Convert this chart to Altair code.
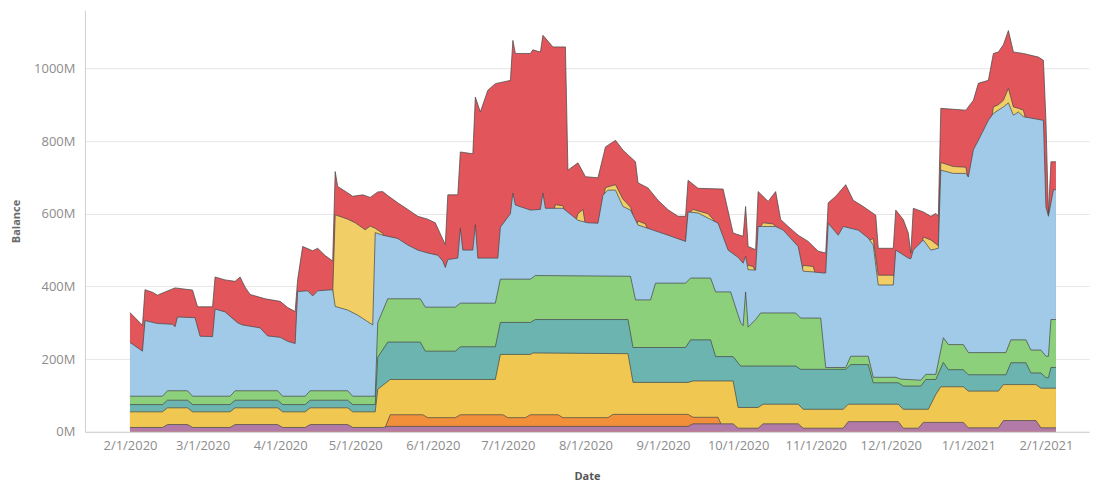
import altair as alt
import pandas as pd

# Cumulative balance (millions) at the upper edge of each band.
# Bands from bottom to top: purple, orange, gold, teal, green, light blue, light yellow, red.
red_top = [
    ("2020-02-01", 328), ("2020-02-06", 293), ("2020-02-07", 391), ("2020-02-10", 384), ("2020-02-12", 376),
    ("2020-02-14", 382), ("2020-02-19", 396), ("2020-02-26", 390), ("2020-02-28", 344), ("2020-03-05", 344),
    ("2020-03-06", 426), ("2020-03-10", 418), ("2020-03-14", 414), ("2020-03-16", 426), ("2020-03-18", 398),
    ("2020-03-20", 378), ("2020-03-26", 366), ("2020-04-01", 359), ("2020-04-04", 342), ("2020-04-07", 331),
    ("2020-04-08", 419), ("2020-04-10", 510), ("2020-04-14", 498), ("2020-04-16", 505), ("2020-04-19", 485),
    ("2020-04-22", 470), ("2020-04-23", 716), ("2020-04-24", 675), ("2020-04-27", 662), ("2020-04-30", 648),
    ("2020-05-04", 652), ("2020-05-07", 645), ("2020-05-10", 660), ("2020-05-12", 661), ("2020-05-14", 650),
    ("2020-05-18", 630), ("2020-05-22", 612), ("2020-05-26", 593), ("2020-05-30", 585), ("2020-06-02", 575),
    ("2020-06-04", 545), ("2020-06-06", 515), ("2020-06-07", 652), ("2020-06-11", 652), ("2020-06-12", 770),
    ("2020-06-17", 765), ("2020-06-18", 921), ("2020-06-20", 880), ("2020-06-23", 940), ("2020-06-26", 958),
    ("2020-07-02", 967), ("2020-07-03", 1077), ("2020-07-04", 1041), ("2020-07-10", 1041), ("2020-07-11", 1051),
    ("2020-07-14", 1045), ("2020-07-15", 1091), ("2020-07-17", 1075), ("2020-07-19", 1059), ("2020-07-24", 1059),
    ("2020-07-25", 720), ("2020-07-29", 740), ("2020-08-01", 702), ("2020-08-06", 699), ("2020-08-09", 784),
    ("2020-08-13", 802), ("2020-08-16", 775), ("2020-08-21", 743), ("2020-08-22", 685), ("2020-08-26", 671),
    ("2020-08-30", 637), ("2020-09-03", 611), ("2020-09-07", 593), ("2020-09-10", 593), ("2020-09-11", 692),
    ("2020-09-15", 670), ("2020-09-25", 668), ("2020-09-29", 547), ("2020-10-03", 538), ("2020-10-04", 620),
    ("2020-10-05", 510), ("2020-10-08", 501), ("2020-10-09", 661), ("2020-10-13", 634), ("2020-10-16", 661),
    ("2020-10-18", 584), ("2020-10-21", 565), ("2020-10-25", 541), ("2020-10-29", 524), ("2020-11-02", 497),
    ("2020-11-05", 492), ("2020-11-06", 630), ("2020-11-09", 648), ("2020-11-13", 680), ("2020-11-16", 637),
    ("2020-11-20", 620), ("2020-11-25", 596), ("2020-11-26", 505), ("2020-12-02", 505), ("2020-12-03", 610),
    ("2020-12-06", 584), ("2020-12-08", 547), ("2020-12-09", 492), ("2020-12-10", 615), ("2020-12-14", 605),
    ("2020-12-17", 593), ("2020-12-19", 601), ("2020-12-20", 593), ("2020-12-21", 890), ("2020-12-31", 885),
    ("2021-01-03", 912), ("2021-01-05", 959), ("2021-01-09", 967), ("2021-01-11", 1041), ("2021-01-13", 1045),
    ("2021-01-15", 1065), ("2021-01-17", 1104), ("2021-01-19", 1045), ("2021-01-23", 1041), ("2021-01-29", 1031),
    ("2021-01-31", 1022), ("2021-02-01", 857), ("2021-02-02", 600), ("2021-02-03", 743), ("2021-02-05", 743),
]

light_yellow_top = [
    [("2020-04-22", 380), ("2020-04-23", 597), ("2020-04-26", 590), ("2020-04-28", 585), ("2020-05-01", 575),
     ("2020-05-05", 556), ("2020-05-07", 566), ("2020-05-09", 560), ("2020-05-12", 546), ("2020-05-13", 520)],
    [("2020-07-19", 600), ("2020-07-20", 625), ("2020-07-23", 622), ("2020-07-24", 600)],
    [("2020-07-28", 575), ("2020-07-29", 600), ("2020-07-31", 612), ("2020-08-01", 568)],
    [("2020-08-07", 600), ("2020-08-09", 672), ("2020-08-13", 680), ("2020-08-16", 640), ("2020-08-19", 618),
     ("2020-08-20", 596)],
    [("2020-08-21", 560), ("2020-08-22", 580), ("2020-08-25", 572), ("2020-08-26", 550)],
    [("2020-09-10", 520), ("2020-09-11", 598), ("2020-09-13", 612), ("2020-09-19", 600), ("2020-09-21", 585),
     ("2020-09-22", 570)],
    [("2020-10-03", 455), ("2020-10-05", 458), ("2020-10-07", 455), ("2020-10-08", 440)],
    [("2020-10-09", 555), ("2020-10-11", 575), ("2020-10-15", 572), ("2020-10-17", 558)],
    [("2020-10-26", 430), ("2020-10-27", 458), ("2020-10-31", 455), ("2020-11-01", 430)],
    [("2020-11-22", 525), ("2020-11-24", 532), ("2020-11-26", 431), ("2020-12-02", 431), ("2020-12-03", 420)],
    [("2020-12-13", 500), ("2020-12-14", 536), ("2020-12-17", 528), ("2020-12-20", 512), ("2020-12-21", 741),
     ("2020-12-26", 730), ("2020-12-31", 728), ("2021-01-01", 690)],
    [("2021-01-10", 850), ("2021-01-11", 894), ("2021-01-13", 900), ("2021-01-15", 912), ("2021-01-17", 945),
     ("2021-01-19", 894), ("2021-01-21", 890), ("2021-01-23", 885), ("2021-01-24", 858)],
]

blue_top = [
    ("2020-02-01", 246), ("2020-02-06", 222), ("2020-02-07", 306), ("2020-02-12", 298), ("2020-02-18", 296),
    ("2020-02-19", 289), ("2020-02-20", 316), ("2020-02-27", 314), ("2020-02-29", 263), ("2020-03-05", 262),
    ("2020-03-06", 338), ("2020-03-10", 330), ("2020-03-15", 300), ("2020-03-17", 294), ("2020-03-24", 286),
    ("2020-03-27", 264), ("2020-04-01", 260), ("2020-04-04", 249), ("2020-04-07", 243), ("2020-04-08", 386),
    ("2020-04-12", 388), ("2020-04-14", 374), ("2020-04-16", 388), ("2020-04-22", 391), ("2020-04-23", 345),
    ("2020-04-28", 335), ("2020-05-02", 321), ("2020-05-06", 303), ("2020-05-08", 294), ("2020-05-09", 548),
    ("2020-05-12", 541), ("2020-05-18", 532), ("2020-05-22", 514), ("2020-05-26", 500), ("2020-05-30", 492),
    ("2020-06-03", 486), ("2020-06-05", 470), ("2020-06-06", 452), ("2020-06-07", 474), ("2020-06-11", 478),
    ("2020-06-12", 560), ("2020-06-13", 500), ("2020-06-17", 500), ("2020-06-18", 570), ("2020-06-19", 478),
    ("2020-06-27", 478), ("2020-06-28", 563), ("2020-07-02", 600), ("2020-07-03", 657), ("2020-07-04", 624),
    ("2020-07-10", 610), ("2020-07-14", 612), ("2020-07-15", 657), ("2020-07-16", 615), ("2020-07-23", 615),
    ("2020-07-25", 604), ("2020-07-29", 582), ("2020-08-02", 575), ("2020-08-06", 574), ("2020-08-08", 651),
    ("2020-08-10", 665), ("2020-08-13", 665), ("2020-08-16", 620), ("2020-08-19", 610), ("2020-08-22", 569),
    ("2020-08-28", 555), ("2020-09-03", 541), ("2020-09-10", 524), ("2020-09-11", 605), ("2020-09-15", 602),
    ("2020-09-19", 588), ("2020-09-23", 574), ("2020-09-27", 500), ("2020-10-01", 480), ("2020-10-03", 464),
    ("2020-10-04", 483), ("2020-10-05", 446), ("2020-10-08", 445), ("2020-10-09", 565), ("2020-10-16", 565),
    ("2020-10-19", 555), ("2020-10-25", 510), ("2020-10-27", 442), ("2020-10-31", 440), ("2020-11-04", 437),
    ("2020-11-05", 437), ("2020-11-06", 574), ("2020-11-10", 541), ("2020-11-12", 565), ("2020-11-18", 555),
    ("2020-11-22", 533), ("2020-11-24", 514), ("2020-11-26", 404), ("2020-12-02", 404), ("2020-12-03", 500),
    ("2020-12-08", 478), ("2020-12-09", 476), ("2020-12-10", 500), ("2020-12-14", 528), ("2020-12-17", 500),
    ("2020-12-20", 505), ("2020-12-21", 720), ("2020-12-26", 711), ("2020-12-31", 711), ("2021-01-01", 701),
    ("2021-01-03", 776), ("2021-01-05", 802), ("2021-01-09", 857), ("2021-01-11", 876), ("2021-01-15", 894),
    ("2021-01-17", 905), ("2021-01-19", 871), ("2021-01-21", 880), ("2021-01-23", 867), ("2021-01-31", 857),
    ("2021-02-01", 619), ("2021-02-02", 593), ("2021-02-04", 666), ("2021-02-05", 666),
]

green_top = [
    ("2020-02-01", 98), ("2020-02-14", 98), ("2020-02-16", 113), ("2020-02-24", 113), ("2020-02-26", 98),
    ("2020-03-12", 98), ("2020-03-14", 113), ("2020-03-31", 113), ("2020-04-02", 98), ("2020-04-11", 98),
    ("2020-04-13", 113), ("2020-04-28", 113), ("2020-04-30", 98), ("2020-05-09", 98), ("2020-05-10", 300),
    ("2020-05-14", 366), ("2020-05-27", 366), ("2020-05-29", 343), ("2020-06-10", 343), ("2020-06-12", 354),
    ("2020-06-26", 354), ("2020-06-28", 420), ("2020-07-10", 420), ("2020-07-12", 430), ("2020-08-19", 428),
    ("2020-08-21", 363), ("2020-08-27", 363), ("2020-08-29", 409), ("2020-09-10", 409), ("2020-09-12", 423),
    ("2020-09-20", 423), ("2020-09-22", 385), ("2020-09-28", 385), ("2020-10-02", 300), ("2020-10-03", 292),
    ("2020-10-04", 385), ("2020-10-05", 288), ("2020-10-08", 309), ("2020-10-10", 327), ("2020-10-24", 327),
    ("2020-10-26", 313), ("2020-11-03", 313), ("2020-11-05", 177), ("2020-11-13", 177), ("2020-11-15", 208),
    ("2020-11-22", 208), ("2020-11-24", 150), ("2020-12-03", 150), ("2020-12-05", 145), ("2020-12-13", 142),
    ("2020-12-15", 158), ("2020-12-19", 158), ("2020-12-22", 259), ("2020-12-24", 240), ("2020-12-30", 240),
    ("2021-01-01", 218), ("2021-01-16", 218), ("2021-01-18", 253), ("2021-01-24", 253), ("2021-01-26", 225),
    ("2021-01-30", 225), ("2021-02-01", 208), ("2021-02-02", 208), ("2021-02-03", 309), ("2021-02-05", 309),
]

teal_top = [
    ("2020-02-01", 75), ("2020-02-14", 75), ("2020-02-16", 87), ("2020-02-24", 87), ("2020-02-26", 75),
    ("2020-03-12", 75), ("2020-03-14", 87), ("2020-03-31", 87), ("2020-04-02", 75), ("2020-04-11", 75),
    ("2020-04-13", 87), ("2020-04-28", 87), ("2020-04-30", 75), ("2020-05-09", 75), ("2020-05-10", 205),
    ("2020-05-14", 247), ("2020-05-27", 247), ("2020-05-29", 222), ("2020-06-10", 222), ("2020-06-12", 234),
    ("2020-06-26", 234), ("2020-06-28", 301), ("2020-07-10", 301), ("2020-07-12", 309), ("2020-08-18", 309),
    ("2020-08-20", 232), ("2020-09-10", 232), ("2020-09-12", 253), ("2020-09-20", 253), ("2020-09-22", 207),
    ("2020-09-29", 207), ("2020-10-02", 181), ("2020-10-24", 181), ("2020-10-26", 172), ("2020-11-13", 172),
    ("2020-11-15", 185), ("2020-11-22", 185), ("2020-11-24", 135), ("2020-12-04", 135), ("2020-12-06", 126),
    ("2020-12-13", 126), ("2020-12-15", 144), ("2020-12-19", 144), ("2020-12-22", 191), ("2020-12-24", 171),
    ("2020-12-30", 171), ("2021-01-01", 157), ("2021-01-16", 157), ("2021-01-18", 190), ("2021-01-24", 190),
    ("2021-01-26", 162), ("2021-01-30", 162), ("2021-02-01", 149), ("2021-02-02", 149), ("2021-02-03", 177),
    ("2021-02-05", 177),
]

gold_top = [
    ("2020-02-01", 55), ("2020-02-14", 55), ("2020-02-16", 66), ("2020-02-24", 66), ("2020-02-26", 55),
    ("2020-03-12", 55), ("2020-03-14", 66), ("2020-03-31", 66), ("2020-04-02", 55), ("2020-04-11", 55),
    ("2020-04-13", 66), ("2020-04-28", 66), ("2020-04-30", 55), ("2020-05-09", 55), ("2020-05-10", 117),
    ("2020-05-15", 144), ("2020-06-26", 144), ("2020-06-28", 213), ("2020-07-10", 213), ("2020-07-11", 217),
    ("2020-08-18", 215), ("2020-08-20", 136), ("2020-09-11", 136), ("2020-09-13", 140), ("2020-09-29", 140),
    ("2020-10-01", 67), ("2020-10-09", 67), ("2020-10-11", 76), ("2020-10-25", 76), ("2020-10-27", 62),
    ("2020-11-12", 62), ("2020-11-14", 76), ("2020-12-04", 76), ("2020-12-06", 62), ("2020-12-16", 62),
    ("2020-12-19", 103), ("2020-12-21", 124), ("2020-12-30", 124), ("2021-01-01", 112), ("2021-01-13", 112),
    ("2021-01-15", 130), ("2021-01-28", 130), ("2021-01-30", 120), ("2021-02-05", 120),
]

orange_top = [
    ("2020-05-13", 12), ("2020-05-15", 47), ("2020-05-28", 47), ("2020-05-30", 39), ("2020-06-10", 39),
    ("2020-06-12", 47), ("2020-06-29", 47), ("2020-07-01", 39), ("2020-07-08", 39), ("2020-07-10", 47),
    ("2020-07-21", 47), ("2020-07-23", 39), ("2020-08-10", 39), ("2020-08-12", 48), ("2020-09-11", 48),
    ("2020-09-13", 40), ("2020-09-23", 40), ("2020-09-25", 8),
]

purple_top = [
    ("2020-02-01", 12), ("2020-02-14", 12), ("2020-02-16", 20), ("2020-02-24", 20), ("2020-02-26", 12),
    ("2020-03-12", 12), ("2020-03-14", 20), ("2020-03-31", 20), ("2020-04-02", 12), ("2020-04-11", 12),
    ("2020-04-13", 20), ("2020-04-28", 20), ("2020-04-30", 12), ("2020-05-12", 12), ("2020-05-14", 15),
    ("2020-09-11", 15), ("2020-09-13", 22), ("2020-09-29", 22), ("2020-10-01", 10), ("2020-10-09", 10),
    ("2020-10-11", 22), ("2020-10-25", 22), ("2020-10-27", 10), ("2020-11-12", 10), ("2020-11-14", 28),
    ("2020-12-04", 28), ("2020-12-06", 10), ("2020-12-12", 10), ("2020-12-14", 26), ("2020-12-30", 26),
    ("2021-01-01", 11), ("2021-01-13", 11), ("2021-01-15", 31), ("2021-01-28", 31), ("2021-01-30", 11),
    ("2021-02-05", 11),
]

tick_dates = [
    (2020, 2), (2020, 3), (2020, 4), (2020, 5), (2020, 6), (2020, 7), (2020, 8),
    (2020, 9), (2020, 10), (2020, 11), (2020, 12), (2021, 1), (2021, 2),
]
y_ticks = [0, 200, 400, 600, 800, 1000]

FONT = "Open Sans"

xscale = alt.Scale(
    type="utc",
    domain=[alt.DateTime(year=2020, month=1, date=14, utc=True),
            alt.DateTime(year=2021, month=2, date=18, hours=5, utc=True)],
)
xaxis = alt.Axis(
    values=[alt.DateTime(year=y, month=m, date=1, utc=True) for y, m in tick_dates],
    format="%-m/%-d/%Y", grid=False, ticks=False, domain=True, domainColor="#d0d0d0",
    labelColor="#8c8c8c", labelFontSize=13, labelFont=FONT, labelPadding=8,
    titleFont=FONT, titleFontSize=11, titleColor="#555555", titleFontWeight="bold", titlePadding=18,
)
yscale = alt.Scale(domain=[0, 1160], nice=False)
yaxis = alt.Axis(
    values=y_ticks, labelExpr="datum.value + 'M'", grid=True, gridColor="#e6e6e6",
    ticks=False, domain=True, domainColor="#d0d0d0",
    labelColor="#8c8c8c", labelFontSize=13, labelFont=FONT, labelPadding=10,
    titleFont=FONT, titleFontSize=11, titleColor="#6a6a6a", titleFontWeight="bold", titlePadding=12,
)

X = alt.X("date:T", scale=xscale, axis=xaxis, title="Date")
Y = alt.Y("value:Q", scale=yscale, axis=yaxis, title="Balance", stack=None)

OUTLINE = alt.OverlayMarkDef(color="#474747", strokeWidth=0.9, opacity=0.8)


def band(points, color):
    df = pd.DataFrame(points, columns=["date", "value"])
    return alt.Chart(df).mark_area(color=color, opacity=1, line=OUTLINE).encode(x=X, y=Y)


def segmented_band(segments, color):
    rows = []
    for i, seg in enumerate(segments):
        for d, v in seg:
            rows.append({"date": d, "value": v, "seg": i})
    df = pd.DataFrame(rows)
    return alt.Chart(df).mark_area(color=color, opacity=1, line=OUTLINE).encode(
        x=X, y=Y, detail="seg:N")


chart = alt.layer(
    band(red_top, "#E1555B"),
    segmented_band(light_yellow_top, "#F2CF66"),
    band(blue_top, "#A0CAE8"),
    band(green_top, "#8CD07B"),
    band(teal_top, "#6BB4AF"),
    band(gold_top, "#F0C851"),
    band(orange_top, "#F18F3A"),
    band(purple_top, "#B27BA7"),
).properties(
    width=1005, height=422,
    padding={"left": 2, "top": 2, "right": 2, "bottom": 2},
    background="white",
).configure_view(stroke=None)

chart.save("out.html", embed_options={"renderer": "svg", "actions": False})
